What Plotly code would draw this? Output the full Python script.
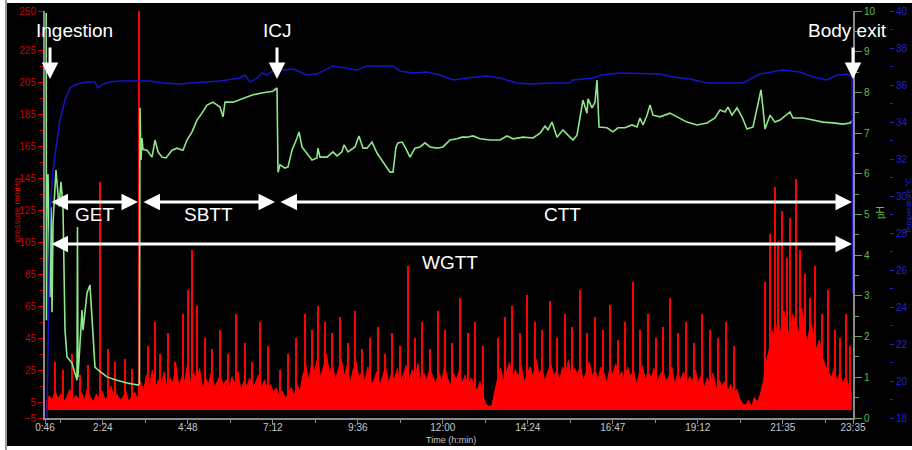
import plotly.graph_objects as go

# ---------------- data ----------------
tick_minutes = [46, 144, 288, 432, 576, 720, 864, 1008, 1152, 1296, 1415]
tick_labels = ["0:46", "2:24", "4:48", "7:12", "9:36", "12:00", "14:24", "16:47", "19:12", "21:35", "23:35"]
minor_minutes = [72, 216, 360, 504, 648, 792, 936, 1080, 1224, 1368]

pressure_ticks = [-5, 5, 25, 45, 65, 85, 105, 125, 145, 165, 185, 205, 225, 250]
pressure_minor = [15, 35, 55, 75, 95, 115, 135, 155, 175, 195, 215, 235]
ph_ticks = [0, 1, 2, 3, 4, 5, 6, 7, 8, 9, 10]
ph_minor = [0.5, 1.5, 2.5, 3.5, 4.5, 5.5, 6.5, 7.5, 8.5, 9.5]
temp_ticks = [18, 20, 22, 24, 26, 28, 30, 32, 34, 36, 38, 40]
temp_minor = [19, 21, 23, 25, 27, 29, 31, 33, 35, 37, 39]

# pressure (mmHg) background activity, one reading every 5 min starting at 0:48
pressure_base_start = 48
pressure_base_step = 5
pressure_base_v = [
    # stomach
    5, 9, 6, 12, 7, 10, 5, 8, 13, 6, 9, 7, 11, 6, 14, 8, 5, 10, 7, 12, 6, 9, 15, 7, 10, 6, 8, 12, 5, 9, 11, 7,
    # small bowel
    18, 12, 22, 15, 25, 13, 19, 16, 24, 12, 20, 17, 28, 14, 21, 18, 30, 15, 23, 19,
    26, 13, 20, 16, 24, 14, 18, 22, 15, 19, 13, 21, 16, 24, 12, 18, 15, 20, 13, 17,
    22, 14, 19, 12, 16, 11, 14,
    # colon
    8, 12, 7, 10, 14, 9, 16, 12, 22, 28, 18, 30, 24, 33, 20, 27, 35, 22,
    29, 19, 26, 32, 21, 28, 17, 25, 30, 20, 24, 18, 27, 16,
    18, 24, 15, 21, 27, 17, 23, 19, 26, 16, 22, 28, 18, 25, 20, 29, 17, 23, 19, 26,
    21, 16, 24, 18, 27, 20, 15, 23, 19, 25, 17, 22, 14, 20, 16, 12, 18, 9, 4, 2,
    3, 12, 20, 26, 18, 24, 30, 19, 25, 21, 28, 17, 23, 27, 20, 32, 22, 26, 18, 24,
    29, 21, 25, 19, 27, 23, 31, 20, 26, 22, 28, 18, 24, 30, 21, 25, 19, 27, 23, 17,
    26, 22, 29, 20, 24, 18, 27, 21, 25, 16, 23, 28, 19, 24, 20, 26, 17, 22, 25, 18,
    21, 27, 16, 23, 19, 24, 15, 21, 18, 25, 17, 22, 14, 20, 16, 23, 13, 19, 15, 18,
    12, 16, 10, 13, 7, 4,
    3, 6, 2, 8, 5, 10, 18, 30,
    38, 50, 44, 58, 47, 62, 52, 45, 60, 55, 48, 64, 50, 42, 56, 46, 38, 44, 33, 28, 24,
    20, 26, 18, 24, 16, 22, 14, 10,
]
pressure_base_t = [pressure_base_start + pressure_base_step * i for i in range(len(pressure_base_v))]

# pressure contraction peaks (minutes, mmHg)
spike_t = [62.9, 76.5, 91.7, 105.3, 118.9, 139.2, 152.7, 164.6, 181.5, 193.4, 205.3,
           220.5, 232.4, 240.8, 254.4, 266.3, 279.8, 288.3, 295.1, 303.5, 317.1, 329.0, 342.5,
           356.1, 369.6, 384.9, 396.7, 410.3, 423.8,
           444.2, 457.7, 471.3, 486.5, 498.4, 508.5, 520.4, 532.3, 545.8, 559.4, 571.2, 583.1,
           596.6, 610.2, 622.1, 633.9, 647.5, 661.0,
           672.9, 684.8, 698.3, 711.9, 723.7, 735.6, 749.1, 762.7, 774.5, 788.1,
           813.5, 825.4, 837.2, 850.8, 862.7, 876.2, 888.1, 901.6, 913.5, 927.0, 938.9, 952.5,
           964.3, 977.9, 991.4, 1003.3, 1016.9, 1028.7, 1042.3, 1054.1, 1067.7, 1081.2, 1093.1,
           1104.9, 1118.5, 1132.0, 1145.6, 1159.1, 1172.7, 1186.3, 1199.8, 1213.4,
           1265.9, 1274.4, 1282.8, 1287.9, 1294.7, 1303.2, 1308.3, 1318.4, 1325.2, 1333.7,
           1342.1, 1350.6, 1362.5, 1372.6, 1384.5, 1393.0, 1403.1, 1409.9]
spike_v = [30, 25, 35, 22, 28, 143, 38, 30, 32, 26, 255,
           40, 55, 35, 48, 30, 60, 75, 100, 65, 45, 38, 50,
           35, 60, 42, 30, 55, 40,
           25, 35, 45, 60, 50, 65, 55, 48, 58, 42, 62, 38,
           45, 52, 35, 48, 40, 90,
           45, 55, 38, 62, 50, 42, 70, 48, 55, 40,
           45, 58, 65, 48, 72, 55, 50, 68, 45, 60, 52, 75,
           48, 58, 50, 66, 44, 55, 80, 50, 60, 45, 52,
           70, 48, 55, 42, 60, 50, 45, 55, 40,
           80, 110, 140, 105, 125, 95, 120, 145, 100, 85,
           70, 90, 60, 75, 50, 45, 60, 40]

# pH readings (minutes, pH)
ph_t = [48.0, 48.5, 49.4, 51.1, 54.5, 56.2, 57.9, 59.6, 64.6, 69.7, 73.1, 76.5, 79.9, 83.3,
        91.7, 100.2, 101.0, 101.9, 108.7, 110.4, 117.2, 122.2, 127.3, 130.7, 135.8, 151.0,
        168.0, 184.9, 203.6, 206.0, 207.0, 208.7, 210.3, 212.0, 218.8, 227.3, 232.4, 237.5,
        244.2, 251.0, 261.2, 269.6, 279.8, 286.6, 295.1, 303.5, 312.0, 320.5, 330.6, 342.5,
        347.6, 351.0, 364.5, 381.5, 398.4, 415.4, 432.3, 439.1, 440.8, 444.2, 452.6, 457.7,
        464.5, 473.0, 476.4, 481.4, 489.9, 498.4, 506.8, 508.5, 511.9, 523.8, 534.0, 540.7,
        549.2, 552.6, 559.4, 571.2, 578.0, 584.8, 591.6, 600.0, 608.5, 617.0, 625.5, 630.5,
        635.6, 640.7, 644.1, 650.9, 656.0, 664.4, 672.9, 681.4, 689.8, 698.3, 710.2, 720.3,
        732.2, 744.1, 752.5, 761.0, 771.2, 783.0, 800.0, 816.9, 828.8, 839.0, 855.9, 872.8,
        884.7, 893.2, 898.2, 905.0, 913.5, 923.6, 932.1, 940.6, 947.4, 952.5, 957.5, 964.3,
        966.0, 972.8, 977.9, 981.3, 984.7, 998.2, 1008.4, 1016.9, 1028.7, 1040.6, 1049.0,
        1054.1, 1059.2, 1066.0, 1071.1, 1076.1, 1088.0, 1104.9, 1116.8, 1133.7, 1150.7,
        1167.6, 1181.2, 1189.7, 1198.1, 1203.2, 1210.0, 1218.5, 1226.9, 1235.4, 1245.6,
        1254.0, 1259.1, 1262.5, 1265.9, 1274.4, 1282.8, 1291.3, 1308.3, 1313.3, 1330.3,
        1347.2, 1364.2, 1381.1, 1398.0, 1409.9, 1415.0]
ph_v = [9.95, 2.4, 5.97, 5.97, 2.97, 5.18, 2.6, 4.8, 6.09, 5.2, 5.80, 5.18, 2.16, 1.50,
        1.35, 0.93, 4.69, 1.0, 2.65, 2.16, 3.07, 3.27, 2.16, 1.25, 1.18, 1.01,
        0.93, 0.86, 0.81, 0.85, 7.62, 6.34, 6.88, 6.6, 6.58, 6.41, 6.83, 6.54,
        6.41, 6.39, 6.58, 6.63, 6.58, 6.83, 7.03, 7.32, 7.49, 7.69, 7.76, 7.64,
        7.40, 7.76, 7.76, 7.86, 7.94, 7.99, 8.03, 8.11, 6.04, 6.22, 6.14, 6.17,
        6.58, 6.88, 7.03, 6.66, 6.51, 6.34, 6.39, 6.63, 6.41, 6.41, 6.54, 6.44,
        6.54, 6.71, 6.54, 6.66, 6.93, 6.63, 6.63, 6.78, 6.51, 6.34, 6.14, 6.04,
        6.04, 6.66, 6.76, 6.78, 6.66, 6.41, 6.63, 6.66, 6.76, 6.66, 6.63, 6.66,
        6.83, 6.86, 6.90, 6.90, 6.93, 6.86, 6.83, 6.83, 6.93, 6.86, 6.90, 6.88,
        7.00, 7.17, 7.08, 7.27, 6.90, 7.08, 6.95, 6.83, 6.95, 7.40, 7.81, 7.49,
        7.84, 7.62, 7.76, 8.30, 7.15, 7.13, 7.03, 7.13, 7.13, 7.20, 7.15,
        7.37, 7.20, 7.44, 7.69, 7.44, 7.40, 7.49, 7.40, 7.27, 7.20,
        7.25, 7.37, 7.57, 7.52, 7.64, 7.44, 7.62, 7.40, 7.10, 7.15,
        7.74, 8.06, 7.62, 7.10, 7.44, 7.27, 7.32, 7.52, 7.37, 7.37,
        7.32, 7.27, 7.25, 7.22, 7.25, 7.32]

# temperature readings (minutes, deg C)
temp_t = [49.4, 52.0, 54.5, 59.6, 66.3, 71.4, 79.9, 88.4, 100.2, 117.2, 130.7, 135.8, 144.3,
          156.1, 173.1, 223.9, 245.9, 274.7, 291.7, 320.5, 342.5, 376.4, 384.9, 393.3, 405.2,
          413.7, 422.1, 432.3, 456.0, 466.2, 489.9, 506.8, 534.0, 574.6, 591.6, 635.6, 647.5,
          669.5, 693.2, 715.3, 737.3, 761.0, 794.9, 816.9, 845.7, 867.7, 906.7, 935.5, 940.6,
          974.5, 989.7, 1020.2, 1088.0, 1110.0, 1138.8, 1167.6, 1228.6, 1240.5, 1257.4, 1294.7,
          1325.2, 1347.2, 1370.9, 1387.9, 1406.5, 1413.3, 1414.6]
temp_v = [18.0, 24.5, 29.24, 31.41, 32.86, 34.11, 35.19, 35.84, 36.05, 36.16, 36.16, 35.84, 36.05,
          36.16, 36.22, 36.22, 36.11, 36.05, 36.11, 36.16, 36.22, 36.38, 36.54, 36.16, 36.38,
          36.65, 36.54, 36.76, 36.81, 36.86, 36.54, 36.59, 37.03, 36.81, 37.03, 37.03, 36.76,
          36.65, 36.70, 36.54, 36.27, 36.38, 36.49, 36.38, 36.11, 36.05, 36.11, 36.11, 36.27,
          36.38, 36.54, 36.65, 36.59, 36.43, 36.32, 36.11, 36.11, 36.32, 36.59, 36.81,
          36.70, 36.43, 36.27, 36.54, 36.59, 36.43, 24.76]

# transit events (minutes)
ingestion_t = 54.5
icj_t = 439.1
exit_t = 1415.0
stomach_exit_t = 203.6
sbtt_start_t = 210.3
sbtt_end_t = 435.7
ctt_start_t = 442.5
ctt_end_t = 1413.3

# ---------------- figure ----------------
FONT = "Liberation Sans, Arial, sans-serif"
RED = "#ff0000"
GREEN = "#8ee88a"
BLUE = "#1515c8"
AXIS = "#8a8a8a"

fig = go.Figure()
fig.add_trace(go.Scatter(x=pressure_base_t, y=pressure_base_v, mode="lines",
                         line=dict(color=RED, width=1), fill="tozeroy", fillcolor=RED,
                         yaxis="y", hoverinfo="skip"))
fig.add_trace(go.Bar(x=spike_t, y=spike_v, width=2.0,
                     marker=dict(color=RED, line=dict(width=0)), yaxis="y", hoverinfo="skip"))
fig.add_trace(go.Scatter(x=ph_t, y=ph_v, mode="lines", line=dict(color=GREEN, width=1.6),
                         yaxis="y2", hoverinfo="skip"))
fig.add_trace(go.Scatter(x=temp_t, y=temp_v, mode="lines", line=dict(color=BLUE, width=1.5),
                         yaxis="y3", hoverinfo="skip"))

L, R, T, B = 45, 17, 11, 32
PW = 912 - L - R
PH = 450 - T - B


def px(xp):
    return (xp - L) / PW


def py(yp):
    return (450 - B - yp) / PH


fig.update_layout(
    width=912, height=450,
    margin=dict(l=L, r=R, t=T, b=B, autoexpand=False),
    paper_bgcolor="white", plot_bgcolor="black",
    showlegend=False, bargap=0,
    font=dict(family=FONT),
    xaxis=dict(domain=[0, 808 / PW], range=[46, 1415], tickvals=tick_minutes, ticktext=tick_labels,
               ticks="outside", ticklen=4, tickcolor=AXIS, showline=True, linecolor=AXIS, linewidth=2,
               showgrid=False, zeroline=False, tickfont=dict(color="#c8c8c8", size=10),
               ticklabelstandoff=-5,
               minor=dict(tickvals=minor_minutes, ticks="outside", ticklen=3, tickcolor=AXIS)),
    yaxis=dict(range=[-5, 250], tickvals=pressure_ticks, ticks="outside", ticklen=5, tickcolor="#c00000",
               showline=True, linecolor=AXIS, linewidth=2, showgrid=False, zeroline=False,
               tickfont=dict(color="#d00000", size=10),
               minor=dict(tickvals=pressure_minor, ticks="outside", ticklen=3, tickcolor="#c00000")),
    yaxis2=dict(range=[0, 10], overlaying="y", side="right", anchor="x", tickvals=ph_ticks,
                ticks="outside", ticklen=7, tickcolor="#5fae3c", showline=True, linecolor=AXIS, linewidth=2,
                showgrid=False, zeroline=False, tickfont=dict(color="#66bb44", size=10),
                minor=dict(tickvals=ph_minor, ticks="outside", ticklen=4, tickcolor="#5fae3c")),
    yaxis3=dict(range=[18, 40], overlaying="y", side="right", anchor="free", position=px(889),
                tickvals=temp_ticks, ticks="outside", ticklen=4, tickcolor="#2020d0", showline=False,
                showgrid=False, zeroline=False, tickfont=dict(color="#2020d0", size=10),
                minor=dict(tickvals=temp_minor, ticks="outside", ticklen=3, tickcolor="#2020d0")),
)

# frame
fig.add_shape(type="rect", xref="paper", yref="paper", x0=px(7), x1=px(912), y0=py(446), y1=py(3),
              fillcolor="black", line=dict(width=0), layer="below")
fig.add_shape(type="line", xref="paper", yref="paper", x0=px(6), x1=px(6), y0=py(450), y1=py(0),
              line=dict(color="#9a9a9a", width=2), layer="below")

ann = []
# axis titles
ann.append(dict(text="pressure mmHg", xref="paper", yref="paper", x=px(17), y=py(210), textangle=-90,
                showarrow=False, font=dict(color="#d00000", size=9), xanchor="center", yanchor="middle"))
ann.append(dict(text="pH", xref="paper", yref="paper", x=px(880), y=py(213), textangle=-90,
                showarrow=False, font=dict(color="#66bb44", size=10), xanchor="center", yanchor="middle"))
ann.append(dict(text="Temperature °C", xref="paper", yref="paper", x=px(908), y=py(206), textangle=-90,
                showarrow=False, font=dict(color="#2020d0", size=8), xanchor="center", yanchor="middle"))
ann.append(dict(text="Time (h:min)", xref="paper", yref="paper", x=px(451), y=py(440),
                showarrow=False, font=dict(color="#c8c8c8", size=9), xanchor="center", yanchor="middle"))

# event labels and arrows
WHITE = "white"
for label, t_arrow, t_text in [("Ingestion", ingestion_t, 96.8), ("ICJ", icj_t, icj_t), ("Body exit", exit_t, 1406.5)]:
    ann.append(dict(text=label, xref="x", yref="paper", x=t_text, y=py(31), showarrow=False,
                    font=dict(color=WHITE, size=19), xanchor="center", yanchor="middle"))
    ann.append(dict(text="", xref="x", yref="paper", x=t_arrow, y=py(79), ax=0, ay=-33,
                    showarrow=True, arrowhead=2, arrowsize=1.1, arrowwidth=3, arrowcolor=WHITE))

for t0, t1, yp in [(ingestion_t, stomach_exit_t, 202), (sbtt_start_t, sbtt_end_t, 202),
                   (ctt_start_t, ctt_end_t, 202), (ingestion_t, ctt_end_t, 244)]:
    ann.append(dict(text="", xref="x", yref="paper", x=t1, y=py(yp), axref="x", ax=t0, ayref="pixel", ay=0,
                    showarrow=True, arrowhead=2, arrowside="end+start", arrowsize=1.1, arrowwidth=3,
                    arrowcolor=WHITE, standoff=0, startstandoff=0))

for label, t_text, yp in [("GET", 130.7, 215), ("SBTT", 322.2, 215), ("CTT", 922.0, 215), ("WGTT", 732.2, 262)]:
    ann.append(dict(text=label, xref="x", yref="paper", x=t_text, y=py(yp), showarrow=False,
                    font=dict(color=WHITE, size=19), xanchor="center", yanchor="middle"))

fig.update_layout(annotations=ann)
fig.write_html("out.html", config={"displayModeBar": False},
               post_script="document.body.style.margin='0px';document.body.style.padding='0px';"
                           "document.documentElement.style.overflow='hidden';")
